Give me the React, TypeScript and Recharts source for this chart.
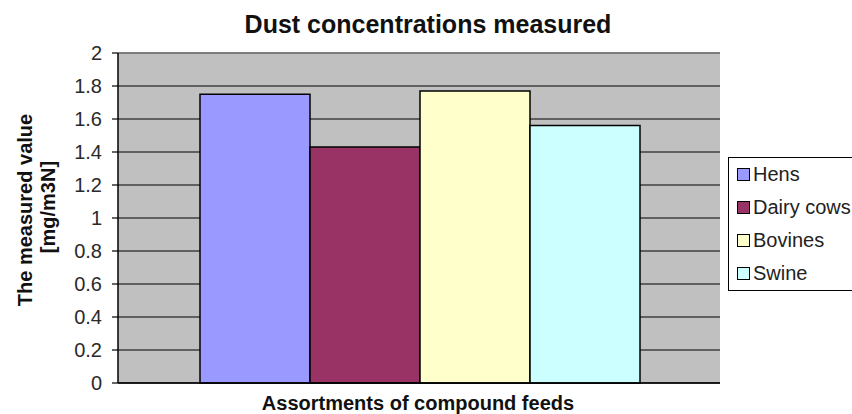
import React from "react";
import { BarChart, Bar, XAxis, YAxis, CartesianGrid, ReferenceLine, Label } from "recharts";

// ── DATA ──────────────────────────────────────────────────────
const SERIES = ["Hens", "Dairy cows", "Bovines", "Swine"];
const VALUES = [1.75, 1.43, 1.77, 1.56];
const COLORS = ["#9999FF", "#993366", "#FFFFCC", "#CCFFFF"];
const Y_TICKS = [0, 0.2, 0.4, 0.6, 0.8, 1, 1.2, 1.4, 1.6, 1.8, 2];

const row: Record<string, any> = { name: "" };
SERIES.forEach((s, i) => { row[s] = VALUES[i]; });
const data = [row];

const FONT = "'Liberation Sans', Arial, sans-serif";

// ── LEGEND BOX (html overlay, so it doesn't steal plot space) ──
const LegendBox = () => (
    <div style={{
        position: "absolute", left: 728, top: 157,
        width: 160, height: 132, border: "1.5px solid #000", background: "#fff",
        fontFamily: FONT, fontSize: 20, color: "#222",
    }}>
        {SERIES.map((s, i) => (
            <div key={s} style={{ height: 33, display: "flex", alignItems: "center", whiteSpace: "nowrap" }}>
                <span style={{
                    display: "inline-block", width: 11, height: 11, marginLeft: 8, marginRight: 3,
                    background: COLORS[i], border: "1px solid #000",
                }} />
                {s}
            </div>
        ))}
    </div>
);

// ── AXIS TITLES ───────────────────────────────────────────────
const YTitle = () => (
    <g fontFamily={FONT} fontWeight="bold" fontSize={20} fill="#111">
        <text x={32} y={210} textAnchor="middle" transform="rotate(-90, 32, 210)">The measured value</text>
        <text x={55} y={207} textAnchor="middle" transform="rotate(-90, 55, 207)">[mg/m3N]</text>
    </g>
);

const XTitle = () => (
    <text x={418} y={410} textAnchor="middle" fontFamily={FONT} fontWeight="bold" fontSize={20} fill="#111">
        Assortments of compound feeds
    </text>
);

export default function App() {
    return (
        <div style={{ position: "absolute", left: 0, top: 0, width: 852, height: 414, overflow: "hidden", background: "#fff" }}>
            <div style={{
                position: "absolute", left: 178, top: 12, width: 500, textAlign: "center",
                fontFamily: FONT, fontWeight: "bold", fontSize: 25, lineHeight: "25px", color: "#111", zIndex: 2,
            }}>
                Dust concentrations measured
            </div>
            <BarChart
                width={852} height={414} data={data}
                margin={{ top: 53, right: 132, left: 0, bottom: 0 }}
                barCategoryGap={82} barGap={0}
            >
                <CartesianGrid vertical={false} stroke="#000" strokeWidth={1.2} fill="#C0C0C0" fillOpacity={1} />
                <XAxis
                    dataKey="name" height={31} tick={false} tickLine={false}
                    axisLine={{ stroke: "#000", strokeWidth: 1.5 }}
                >
                    <Label content={<XTitle />} />
                </XAxis>
                <YAxis
                    domain={[0, 2]} ticks={Y_TICKS} width={118} interval={0}
                    tickSize={6} tickMargin={10}
                    tick={{ fontSize: 20, fill: "#2a2a2a", fontFamily: FONT }}
                    tickLine={{ stroke: "#000", strokeWidth: 1.2 }}
                    axisLine={{ stroke: "#000", strokeWidth: 1.5 }}
                >
                    <Label content={<YTitle />} />
                </YAxis>
                <YAxis
                    yAxisId="right" orientation="right" domain={[0, 2]} width={0}
                    tick={false} tickLine={false} axisLine={{ stroke: "#808080", strokeWidth: 1.5 }}
                />
                <ReferenceLine y={2} stroke="#808080" strokeWidth={1.5} />
                {SERIES.map((s, i) => (
                    <Bar key={s} dataKey={s} fill={COLORS[i]} stroke="#000" strokeWidth={1.5} isAnimationActive={false} />
                ))}
            </BarChart>
            <LegendBox />
        </div>
    );
}
